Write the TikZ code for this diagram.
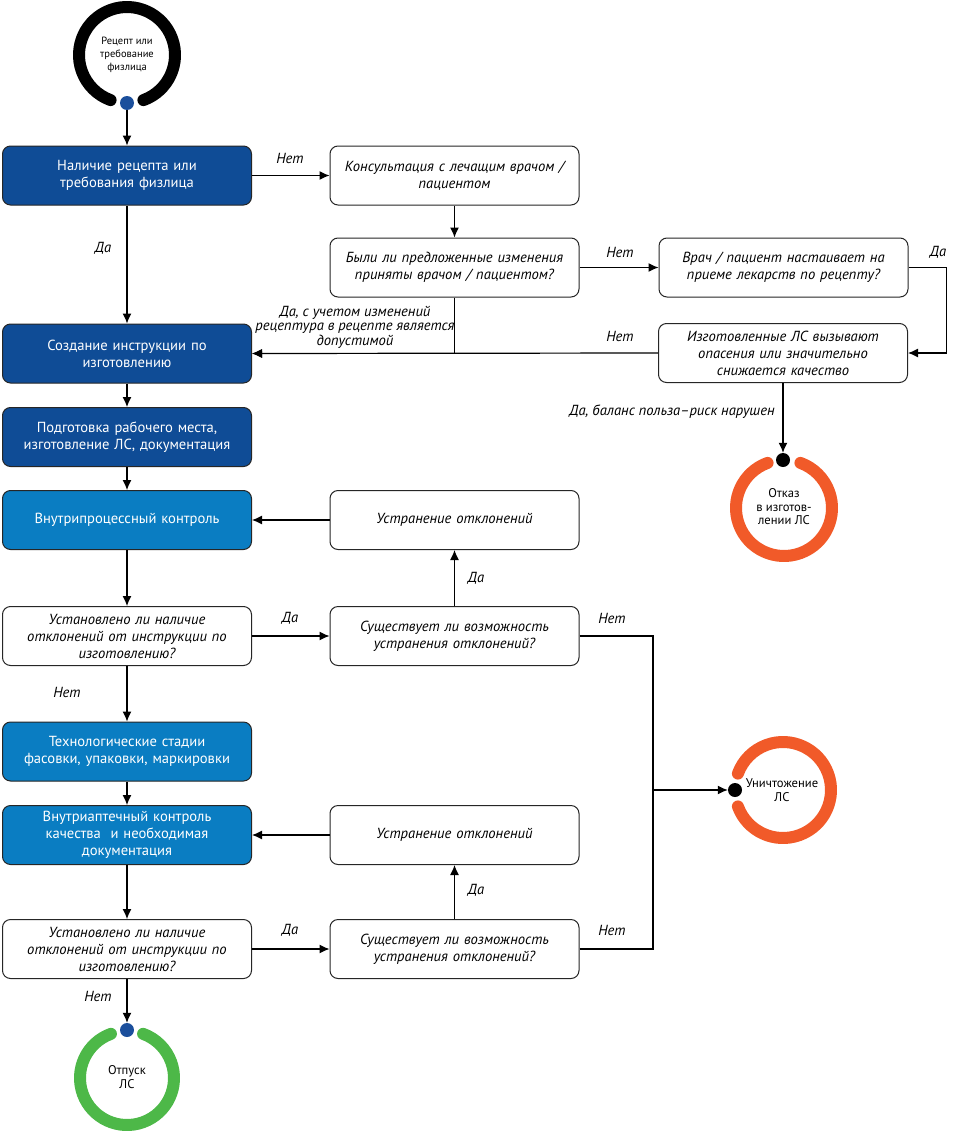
\documentclass[tikz,border=0pt]{standalone}
\usepackage{fontspec}
\setmainfont{PT Sans}
\usetikzlibrary{arrows.meta}
\definecolor{dkblue}{HTML}{0F4C96}
\definecolor{ltblue}{HTML}{0A7DC2}
\definecolor{ringorange}{HTML}{F15A29}
\definecolor{ringgreen}{HTML}{4DB848}
\definecolor{dotblue}{HTML}{1B4F9C}
\begin{document}
\begin{tikzpicture}[x=1pt,y=-1pt,
		box/.style={draw=black!85, line width=1pt, rounded corners=8pt, minimum width=249pt, minimum height=59pt, text width=240pt, align=center, font=\fontsize{14.6}{17}\selectfont},
		darkbox/.style={box, fill=dkblue, text=white},
		lightbox/.style={box, fill=ltblue, text=white},
		askbox/.style={box, fill=white, font=\fontsize{14.6}{17}\selectfont\itshape},
		lab/.style={font=\fontsize{14.6}{14.5}\selectfont\itshape, align=center},
		ringtext/.style={font=\fontsize{10.5}{13}\selectfont, align=center},
		bigringtext/.style={font=\fontsize{12.6}{13.5}\selectfont, align=center},
		ring/.style={line width=12pt, line cap=round},
		dot/.style={circle, inner sep=0pt, minimum size=14pt},
		link/.style={line width=1.2pt},
		arr/.style={link, -{Latex[length=10pt,width=9pt]}}]
	\useasboundingbox (0,0) rectangle (959,1143);
	% rings
	\draw[ring, black] (127,55) ++(-70:48pt) arc[start angle=-70, end angle=250, radius=48pt];
	\draw[ring, ringorange] (784,508) ++(110:48pt) arc[start angle=110, end angle=430, radius=48pt];
	\draw[ring, ringorange] (783,790) ++(200:48pt) arc[start angle=200, end angle=520, radius=48pt];
	\draw[ring, ringgreen] (127,1078) ++(110:47pt) arc[start angle=110, end angle=430, radius=47pt];
	\node[ringtext] (r1) at (127,55) {Рецепт или\\требование\\физлица};
	\node[bigringtext] (r2) at (784,507) {Отказ\\в изготов-\\лении ЛС};
	\node[bigringtext] (r3) at (782,790) {Уничтожение\\ЛС};
	\node[bigringtext] (r4) at (127,1077) {Отпуск\\ЛС};
	\node[dot, fill=dotblue] (d1) at (127,103) {};
	\node[dot, fill=black] (d2) at (783,460) {};
	\node[dot, fill=black] (d3) at (735,790) {};
	\node[dot, fill=dotblue] (d4) at (127,1030) {};
	% boxes
	\node[darkbox] (1) at (127,175.5) {Наличие рецепта или\\требования физлица};
	\node[askbox] (2) at (454.5,175.5) {Консультация с лечащим врачом /\\пациентом};
	\node[askbox] (3) at (454.5,267.5) {Были ли предложенные изменения\\приняты врачом / пациентом?};
	\node[askbox] (4) at (783.5,267.5) {Врач / пациент настаивает на\\приеме лекарств по рецепту?};
	\node[darkbox] (5) at (127,353.5) {Создание инструкции по\\изготовлению};
	\node[askbox] (6) at (783,353) {Изготовленные ЛС вызывают\\опасения или значительно\\снижается качество};
	\node[darkbox] (7) at (127,437) {Подготовка рабочего места,\\изготовление ЛС, документация};
	\node[lightbox] (8) at (127,520) {Внутрипроцессный контроль};
	\node[askbox] (9) at (454.5,520) {Устранение отклонений};
	\node[askbox] (10) at (127,636) {Установлено ли наличие\\отклонений от инструкции по\\изготовлению?};
	\node[askbox] (11) at (454.5,636) {Существует ли возможность\\устранения отклонений?};
	\node[lightbox] (12) at (127,751.5) {Технологические стадии\\фасовки, упаковки, маркировки};
	\node[lightbox] (13) at (127,835) {Внутриаптечный контроль\\качества\ \ и необходимая\\документация};
	\node[askbox] (14) at (454.5,835) {Устранение отклонений};
	\node[askbox] (15) at (127,949) {Установлено ли наличие\\отклонений от инструкции по\\изготовлению?};
	\node[askbox] (16) at (454.5,949) {Существует ли возможность\\устранения отклонений?};
	\coordinate (j) at (653,790);
	% connectors
	\draw[arr] (d1) -- (1);
	\draw[arr] (1) -- (5);
	\draw[arr] (1) -- (2);
	\draw[arr] (2) -- (3);
	\draw[arr] (3.south) |- (5.east);
	\draw[arr] (3) -- (4);
	\draw[arr] (4.east) -- ++(38,0) |- (6.east);
	\draw[arr] (6.west) -- (5.east);
	\draw[arr] (6) -- (d2);
	\draw[arr] (5) -- (7);
	\draw[arr] (7) -- (8);
	\draw[arr] (8) -- (10);
	\draw[arr] (10) -- (11);
	\draw[arr] (11) -- (9);
	\draw[arr] (9) -- (8);
	\draw[arr] (10) -- (12);
	\draw[arr] (12) -- (13);
	\draw[arr] (13) -- (15);
	\draw[arr] (15) -- (16);
	\draw[arr] (16) -- (14);
	\draw[arr] (14) -- (13);
	\draw[arr] (15) -- (d4);
	\draw[link] (11.east) -| (j);
	\draw[link] (16.east) -| (j);
	\draw[arr] (j) -- (d3);
	% labels
	\node[lab] (l1) at (290,158) {Нет};
	\node[lab] (l2) at (103,248) {Да};
	\node[lab] (l3) at (355,327) {Да, с учетом изменений\\рецептура в рецепте является\\допустимой};
	\node[lab] (l4) at (620,252) {Нет};
	\node[lab] (l5) at (938,252) {Да};
	\node[lab] (l6) at (620,336) {Нет};
	\node[lab] (l7) at (672,412) {Да, баланс польза–риск нарушен};
	\node[lab] (l8) at (290,618) {Да};
	\node[lab] (l9) at (476,578) {Да};
	\node[lab] (l10) at (612,618) {Нет};
	\node[lab] (l11) at (67,692) {Нет};
	\node[lab] (l12) at (290,930) {Да};
	\node[lab] (l13) at (476,890) {Да};
	\node[lab] (l14) at (612,930) {Нет};
	\node[lab] (l15) at (98,996) {Нет};
\end{tikzpicture}
\end{document}
